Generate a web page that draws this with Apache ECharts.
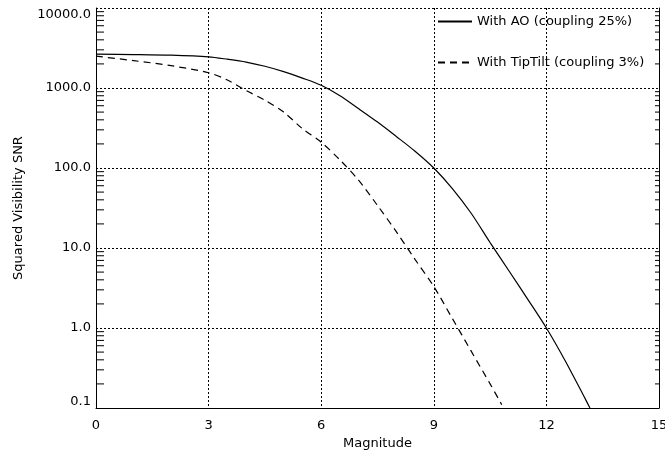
<!DOCTYPE html>
<html>
<head>
<meta charset="utf-8">
<script src="https://cdn.jsdelivr.net/npm/echarts@6/dist/echarts.min.js"></script>
<style>
  html, body { margin: 0; padding: 0; background: #fff; }
  #chart { width: 665px; height: 450px; }
</style>
</head>
<body>
<div id="chart"></div>
<script>
const xTicks = [0, 3, 6, 9, 12, 15];
const yTicks = [0.1, 1, 10, 100, 1000, 10000];

// With AO (coupling 25%)
const aoMag = [0, 1, 2, 3, 3.5, 4, 4.5, 5, 5.5, 6, 6.5, 7, 7.5, 8, 8.5, 9, 9.5, 10, 10.5, 11, 11.5, 12, 12.5, 13, 13.16];
const aoSnr = [2650, 2620, 2570, 2450, 2290, 2110, 1870, 1600, 1330, 1080, 800, 550, 375, 248, 162, 100, 55, 27, 11.7, 5.2, 2.3, 1.0, 0.39, 0.14, 0.1];

// With TipTilt (coupling 3%)
const ttMag = [0, 1, 2, 3, 3.5, 4, 4.5, 5, 5.5, 6, 6.5, 7, 7.5, 8, 8.5, 9, 9.5, 10, 10.5, 10.81];
const ttSnr = [2500, 2200, 1900, 1550, 1260, 930, 705, 500, 310, 210, 126, 70, 34, 16, 7.2, 3.3, 1.3, 0.51, 0.2, 0.11];

// minor ticks of the log axis (2..9 in each decade)
const minorTicks = [];
yTicks.slice(0, -1).forEach((d) => {
  for (let k = 2; k <= 9; k++) minorTicks.push([0, d * k]);
});

const font = "DejaVu Sans";
const chart = echarts.init(document.getElementById("chart"));

chart.setOption({
  animation: false,
  backgroundColor: "#fff",
  textStyle: { fontFamily: font, color: "#000" },
  grid: { left: 96, right: 6, top: 8, bottom: 42, outerBoundsMode: "none", containLabel: false },
  legend: {
    data: ["With AO (coupling 25%)", "With TipTilt (coupling 3%)"],
    orient: "vertical",
    left: 437,
    top: 15,
    padding: 0,
    itemWidth: 34,
    itemHeight: 14,
    itemGap: 28,
    itemStyle: { opacity: 0 },
    textStyle: { fontFamily: font, fontSize: 13, color: "#000" }
  },
  xAxis: {
    type: "value",
    min: xTicks[0],
    max: xTicks[xTicks.length - 1],
    interval: 3,
    name: "Magnitude",
    nameLocation: "middle",
    nameGap: 22,
    nameTextStyle: { fontFamily: font, fontSize: 13, color: "#000" },
    axisLine: { lineStyle: { color: "#000", width: 1 } },
    axisTick: { show: false },
    axisLabel: { fontFamily: font, fontSize: 13, color: "#000", margin: 11 },
    splitLine: { show: true, lineStyle: { color: "#000", type: [2, 2], width: 1 } }
  },
  yAxis: [
    {
      type: "log",
      logBase: 10,
      min: yTicks[0],
      max: yTicks[yTicks.length - 1],
      name: "Squared Visibility SNR",
      nameLocation: "middle",
      nameGap: 71,
      nameTextStyle: { fontFamily: font, fontSize: 13, color: "#000" },
      axisLine: { show: true, lineStyle: { color: "#000", width: 1 } },
      axisTick: { show: false },
      axisLabel: {
        fontFamily: font, fontSize: 13, color: "#000", margin: 5,
        formatter: (v) => Number(v).toFixed(1),
        verticalAlignMinLabel: "bottom",
        verticalAlignMaxLabel: "top"
      },
      splitLine: { show: true, lineStyle: { color: "#000", type: [2, 2], width: 1 } }
    },
    {
      type: "log",
      logBase: 10,
      min: yTicks[0],
      max: yTicks[yTicks.length - 1],
      position: "right",
      axisLine: { show: true, lineStyle: { color: "#000", width: 1 } },
      axisTick: { show: false },
      axisLabel: { show: false },
      splitLine: { show: false }
    }
  ],
  series: [
    {
      name: "With AO (coupling 25%)",
      type: "line",
      data: aoMag.map((m, i) => [m, aoSnr[i]]),
      smooth: 0.3,
      symbol: "none",
      lineStyle: { color: "#000", width: 1.2, type: "solid" },
      itemStyle: { color: "#000" },
      z: 5
    },
    {
      name: "With TipTilt (coupling 3%)",
      type: "line",
      data: ttMag.map((m, i) => [m, ttSnr[i]]),
      smooth: 0.3,
      symbol: "none",
      lineStyle: { color: "#000", width: 1.2, type: [7, 5] },
      itemStyle: { color: "#000" },
      z: 5
    },
    {
      type: "custom",
      silent: true,
      clip: false,
      data: minorTicks,
      renderItem: (params, api) => {
        const cs = params.coordSys;
        const y = api.coord([0, api.value(1)])[1];
        const st = { stroke: "#000", lineWidth: 1 };
        return {
          type: "group",
          children: [
            { type: "line", shape: { x1: cs.x, y1: y, x2: cs.x + 8, y2: y }, style: st },
            { type: "line", shape: { x1: cs.x + cs.width - 4, y1: y, x2: cs.x + cs.width, y2: y }, style: st }
          ]
        };
      }
    }
  ]
});
</script>
</body>
</html>
